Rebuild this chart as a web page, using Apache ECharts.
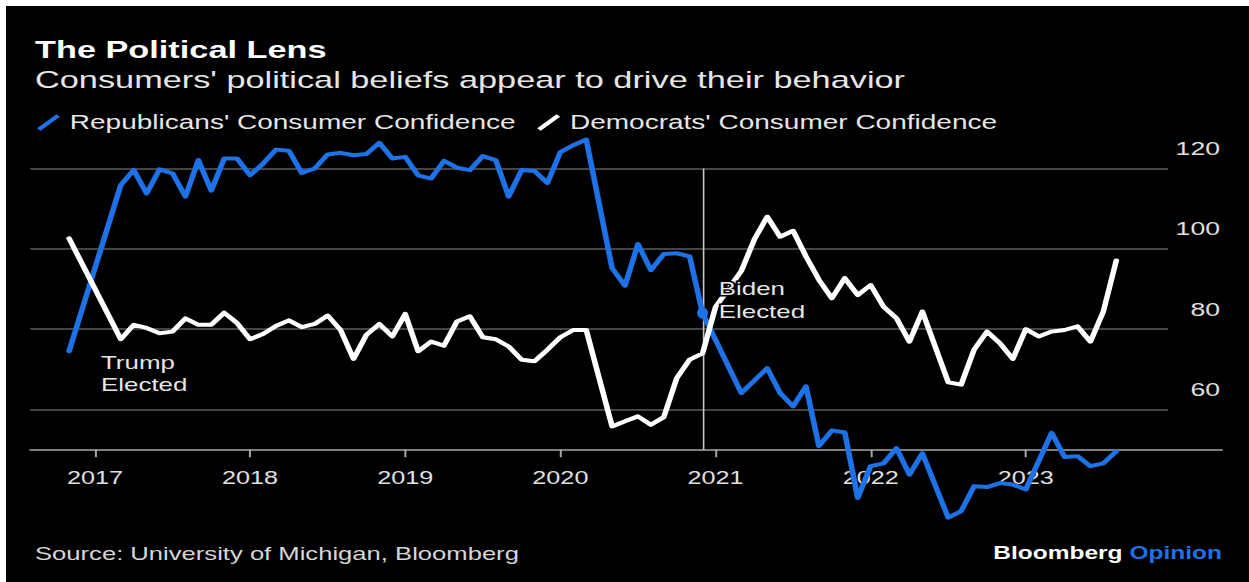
<!DOCTYPE html>
<html>
<head>
<meta charset="utf-8">
<script src="https://cdn.jsdelivr.net/npm/echarts@6/dist/echarts.min.js"></script>
<style>
html,body{margin:0;padding:0;width:1249px;height:582px;overflow:hidden;background:#ffffff;}
#frame{position:absolute;left:6px;top:6px;width:1243px;height:576px;background:#000000;}
#chart{position:absolute;left:0;top:0;width:892px;height:582px;transform-origin:0 0;}
</style>
</head>
<body>
<div id="frame"></div>
<div id="chart"></div>
<script>
// ---- data (monthly, Nov 2016 .. Aug 2023; null = no point drawn, line bridges it) ----
const FIRST_MONTH = '2016-08';
const LAST_MONTH = '2023-12';
const DATA_START = '2016-11';
const republicans = [
  74.5, null,
  null, null, 115.9, 119.6, 113.8, 119.8, 118.8, 113.0, 122.1, 114.5, 122.5, 122.5,
  118.3, 121.2, 124.7, 124.4, 118.9, 120.0, 123.5, 123.9, 123.3, 123.6, 126.4, 122.5,
  122.9, 118.3, 117.5, 121.9, 120.2, 119.6, 123.1, 122.1, 113.0, 119.6, 119.4, 116.4,
  124.1, 125.8, 127.2, null, 95.2, 90.8, 101.2, 94.7, 98.7, 98.9, 98.1, 84.0,
  null, null, 64.1, null, 70.3, 64.1, 60.8, 65.8, 50.9, 54.8, 54.3, 38.0,
  45.9, 46.6, 50.4, 43.8, 49.1, null, 33.1, 34.7, 40.9, 40.7, 41.7, 41.3,
  40.1, null, 54.2, 48.2, 48.4, 45.9, 46.6, 49.6
];
const democrats = [
  102.6, null,
  null, null, 77.5, 81.1, 80.3, 79.0, 79.4, 82.7, 81.1, 81.1, 84.1, 81.5,
  77.5, 78.8, 80.8, 82.2, 80.5, 81.3, 83.4, 79.8, 72.6, 78.6, 81.3, 78.2,
  83.8, 74.5, 76.9, 75.9, 81.9, 83.2, 78.0, 77.5, 75.7, 72.4, 72.0, 74.9,
  78.0, 79.8, 79.8, null, 55.8, 57.1, 58.3, 56.2, 58.1, 67.8, 72.4, 74.0,
  85.5, 90.0, 94.5, 102.3, 108.0, 103.0, 104.5, 98.1, 92.3, 87.7, 92.7, 88.5,
  91.0, 85.6, 82.7, 76.9, 84.4, null, 66.8, 66.2, 74.9, 79.4, 76.5, 72.6,
  80.0, 78.2, 79.4, 79.8, 80.7, 76.9, 84.4, 97.1
];
const yTickLabels = [60, 80, 100, 120];
const TRUMP_MONTH = '2016-11';
const BIDEN_MONTH = '2020-12';
const seriesNames = ["Republicans' Consumer Confidence", "Democrats' Consumer Confidence"];

// ---- layout helpers: chart is drawn 892 wide and stretched to 1249 horizontally ----
const W = 892, H = 582, PAGE_W = 1249;
const S = PAGE_W / W;
const el = document.getElementById('chart');
el.style.transform = 'scaleX(' + S + ')';
function px(x) { return x / S; }

function monthRange(a, b) {
  let [y, m] = a.split('-').map(Number);
  const [y2, m2] = b.split('-').map(Number);
  const out = [];
  while (y < y2 || (y === y2 && m <= m2)) {
    out.push(y + '-' + String(m).padStart(2, '0'));
    m++; if (m > 12) { m = 1; y++; }
  }
  return out;
}
const categories = monthRange(FIRST_MONTH, LAST_MONTH);
const startIdx = categories.indexOf(DATA_START);
function align(arr) {
  return categories.map((c, i) => {
    const j = i - startIdx;
    return (j >= 0 && j < arr.length) ? arr[j] : null;
  });
}
const repData = align(republicans);
const demData = align(democrats);
const bidenIdx = categories.indexOf(BIDEN_MONTH);
const trumpIdx = categories.indexOf(TRUMP_MONTH);

const BLUE = '#1c72e6';
const FONT = 'Liberation Sans, Arial, sans-serif';
const isJan = (idx, val) => String(val).slice(5) === '01';
const GRID_TOP = 168.5, GRID_BOTTOM = H - 449.7;

const chart = echarts.init(el, null, { renderer: 'svg', width: W, height: H });
chart.setOption({
  backgroundColor: 'transparent',
  animation: false,
  title: [
    { text: 'The Political Lens', left: px(35), top: 49 - 12.25, padding: 0,
      textStyle: { color: '#ffffff', fontFamily: FONT, fontWeight: 'bold', fontSize: 24.5, lineHeight: 24.5 } },
    { text: "Consumers' political beliefs appear to drive their behavior", left: px(35), top: 79.5 - 12.25, padding: 0,
      textStyle: { color: '#e6e6e6', fontFamily: FONT, fontWeight: 'normal', fontSize: 24.5, lineHeight: 24.5 } },
    { text: 'Source: University of Michigan, Bloomberg', left: px(35), top: 554 - 9.15, padding: 0,
      textStyle: { color: '#d6d6d6', fontFamily: FONT, fontWeight: 'normal', fontSize: 18.3, lineHeight: 18.3 } },
    { text: '{b|Bloomberg} {o|Opinion}', right: px(27), top: 553 - 8.75, padding: 0,
      textStyle: { fontFamily: FONT, fontSize: 17.5, lineHeight: 17.5,
        rich: {
          b: { color: '#ffffff', fontWeight: 'bold', fontFamily: FONT, fontSize: 17.5 },
          o: { color: BLUE, fontWeight: 'bold', fontFamily: FONT, fontSize: 17.5 }
        } } }
  ],
  legend: {
    data: seriesNames,
    left: px(37), top: 112.5, padding: 0,
    itemWidth: px(23), itemHeight: 16.7, itemGap: px(21.5),
    icon: 'path://M2.6,82.6L82.6,2.6L97.4,17.4L17.4,97.4Z',
    selectedMode: false,
    textStyle: { color: '#e6e6e6', fontFamily: FONT, fontSize: 20, lineHeight: 20, padding: [0, 0, 0, 2] }
  },
  grid: [
    { left: px(30.3), right: W - px(1168), top: GRID_TOP, bottom: GRID_BOTTOM, containLabel: false },
    // wider grid used only for the baseline, which runs under the value labels
    { left: px(30.3), right: W - px(1222), top: GRID_TOP, bottom: GRID_BOTTOM, containLabel: false }
  ],
  xAxis: [
    {
      type: 'category', gridIndex: 0,
      data: categories,
      boundaryGap: false,
      axisLine: { show: false },
      axisTick: { show: true, interval: isJan, length: 7.5, lineStyle: { color: '#a8a8a8', width: px(2) } },
      axisLabel: { show: true, interval: isJan, formatter: v => v.slice(0, 4), margin: 19.5,
        color: '#e0e0e0', fontFamily: FONT, fontSize: 18, lineHeight: 18 },
      splitLine: { show: false }
    },
    {
      type: 'value', gridIndex: 1, min: 0, max: 1,
      axisLine: { show: true, lineStyle: { color: '#a8a8a8', width: 1.6 } },
      axisTick: { show: false }, axisLabel: { show: false }, splitLine: { show: false }
    }
  ],
  yAxis: [
    {
      type: 'value', gridIndex: 0,
      position: 'right',
      min: 50, max: 120, interval: 10,
      axisLine: { show: false },
      axisTick: { show: false },
      splitLine: { show: true, lineStyle: { color: ['rgba(0,0,0,0)', '#5c5c5c'], width: 1.6 } },
      axisLabel: {
        formatter: v => (yTickLabels.indexOf(v) >= 0 ? '{v|' + v + '}\n{s| }' : ''),
        align: 'right', verticalAlign: 'middle', margin: px(1220) - px(1168),
        rich: {
          v: { color: '#e0e0e0', fontFamily: FONT, fontSize: 19, lineHeight: 19, align: 'right' },
          s: { fontSize: 1, lineHeight: 40, height: 40 }
        }
      }
    },
    {
      type: 'value', gridIndex: 1, min: 50, max: 120, show: false
    }
  ],
  series: [
    {
      name: seriesNames[0], type: 'line', data: repData, color: BLUE,
      xAxisIndex: 0, yAxisIndex: 0,
      showSymbol: false, symbol: 'none', connectNulls: true, clip: false,
      lineStyle: { color: BLUE, width: 4, join: 'round', cap: 'round' },
      emphasis: { disabled: true }, silent: true,
      markLine: {
        silent: true, symbol: ['none', 'none'], z: 1, animation: false,
        label: { show: false },
        lineStyle: { color: '#c8c8c8', width: px(1.6), type: 'solid' },
        data: [[{ coord: [BIDEN_MONTH, 50] }, { coord: [BIDEN_MONTH, 120] }]]
      }
    },
    {
      name: seriesNames[1], type: 'line', data: demData, color: '#ffffff',
      xAxisIndex: 0, yAxisIndex: 0,
      showSymbol: false, symbol: 'none', connectNulls: true, clip: false,
      lineStyle: { color: '#ffffff', width: 4, join: 'round', cap: 'round' },
      emphasis: { disabled: true }, silent: true,
      markPoint: {
        silent: true, animation: false,
        data: [
          { name: 'Biden', coord: [BIDEN_MONTH, repData[bidenIdx]], symbol: 'circle', symbolSize: [px(11), 11],
            itemStyle: { color: BLUE },
            label: { show: true, formatter: 'Biden\nElected', position: 'right', distance: 7.6, offset: [0, -12.4],
              align: 'left', verticalAlign: 'middle',
              color: '#e6e6e6', fontFamily: FONT, fontSize: 18.5, lineHeight: 23,
              textBorderColor: '#000000', textBorderWidth: 3 } },
          { name: 'Trump', coord: [TRUMP_MONTH, repData[trumpIdx]], symbol: 'circle', symbolSize: 1,
            itemStyle: { color: 'rgba(0,0,0,0)' },
            label: { show: true, formatter: 'Trump\nElected', position: 'right', distance: 22.3, offset: [0, 22.5],
              align: 'left', verticalAlign: 'middle',
              color: '#e6e6e6', fontFamily: FONT, fontSize: 18.5, lineHeight: 22.5 } }
        ]
      }
    }
  ]
});
</script>
</body>
</html>
